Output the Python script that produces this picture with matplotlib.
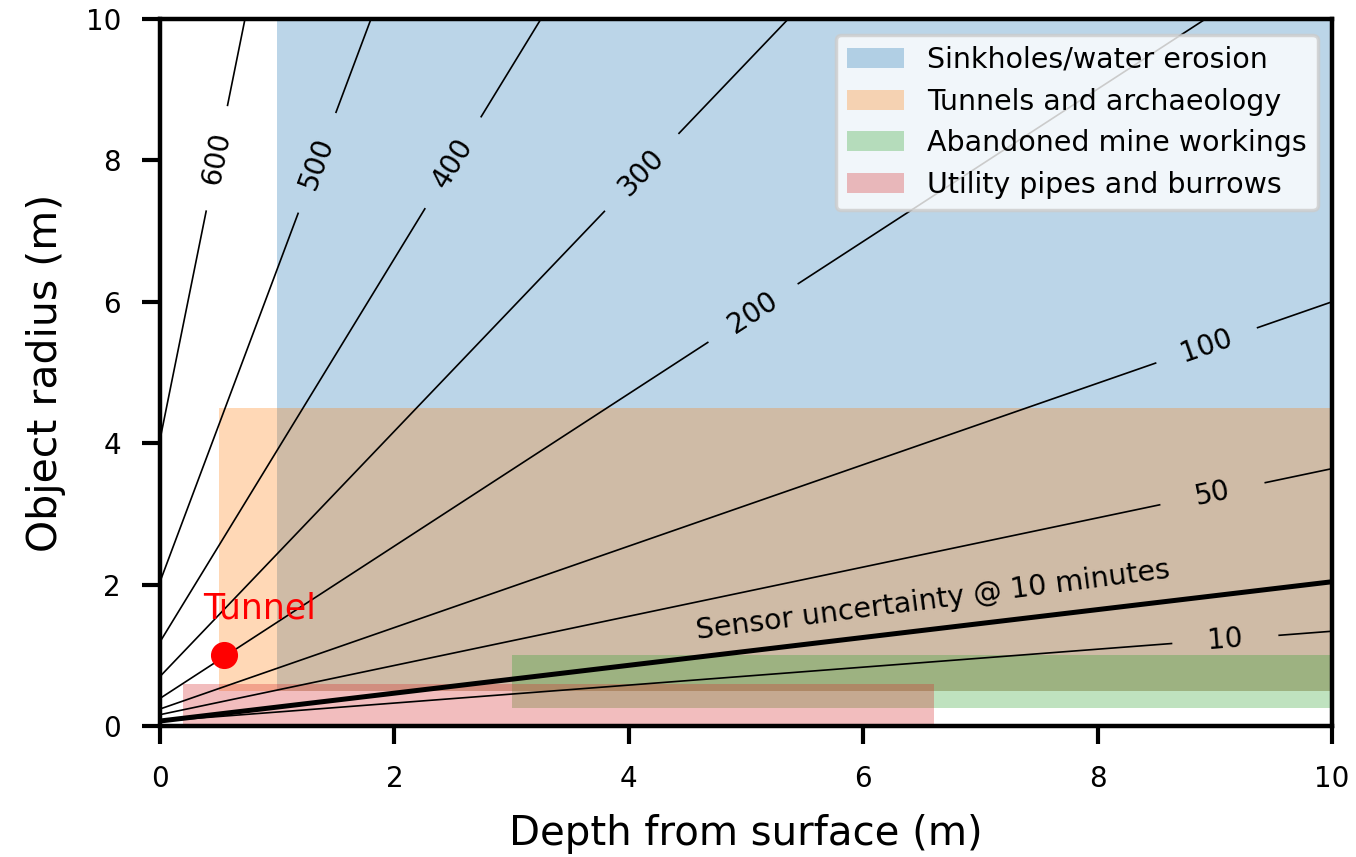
import matplotlib
matplotlib.use("Agg")
import matplotlib.pyplot as plt
from matplotlib.patches import Patch
import numpy as np

# contour lines: anomaly level, end points (depth, radius), depth of the inline label
levels = [600, 500, 400, 300, 200, 100, 50, 10]
line_x0 = [0.0, 0.0, 0.0, 0.0, 0.0, 0.0, 0.0, 0.0]
line_y0 = [4.05, 2.04, 1.19, 0.70, 0.39, 0.24, 0.16, 0.07]
line_x1 = [0.725, 1.80, 3.25, 5.36, 8.92, 10.0, 10.0, 10.0]
line_y1 = [10.0, 10.0, 10.0, 10.0, 10.0, 6.00, 3.64, 1.34]
label_x = [0.485, 1.34, 2.50, 4.11, 5.06, 8.93, 8.98, 9.09]

# sensor uncertainty line (10 minute integration)
sensor_x = [0.0, 10.0]
sensor_y = [0.07, 2.04]

# target regions: (label, colour, x0, x1, y0, y1)
region_names = ["Sinkholes/water erosion", "Tunnels and archaeology",
                "Abandoned mine workings", "Utility pipes and burrows"]
region_colors = ["tab:blue", "tab:orange", "tab:green", "tab:red"]
region_x = [(1.0, 10.0), (0.5, 10.0), (3.0, 10.0), (0.2, 6.6)]
region_y = [(0.5, 10.0), (0.5, 4.5), (0.25, 1.0), (0.0, 0.6)]

tunnel_depth = 0.55
tunnel_radius = 1.0

fig = plt.figure(figsize=(13.56, 8.57), dpi=100)
ax = fig.add_axes([0.118, 0.1529, 0.8643, 0.8249])
ax.set_xlim(0, 10)
ax.set_ylim(0, 10)

for (x0, x1), (y0, y1), c in zip(region_x, region_y, region_colors):
    ax.axvspan(x0, x1, ymin=y0 / 10, ymax=y1 / 10, color=c, alpha=0.3, lw=0, zorder=1)

fig.canvas.draw()
trans = ax.transData
gap = 54  # half width of label gap in pixels

for lev, x0, y0, x1, y1, lx in zip(levels, line_x0, line_y0, line_x1, line_y1, label_x):
    p0 = trans.transform((x0, y0))
    p1 = trans.transform((x1, y1))
    d = (p1 - p0) / np.hypot(*(p1 - p0))
    t = (lx - x0) / (x1 - x0)
    pc = p0 + t * (p1 - p0)
    a = trans.inverted().transform(pc - gap * d)
    b = trans.inverted().transform(pc + gap * d)
    ax.plot([x0, a[0]], [y0, a[1]], color="black", lw=1.2, zorder=3)
    ax.plot([b[0], x1], [b[1], y1], color="black", lw=1.2, zorder=3)
    cxy = trans.inverted().transform(pc)
    ang = np.degrees(np.arctan2(d[1], d[0]))
    ax.text(cxy[0], cxy[1], str(lev), rotation=ang, ha="center", va="center",
            rotation_mode="anchor", fontsize=20, zorder=4)

ax.plot(sensor_x, sensor_y, color="black", lw=3.6, zorder=3)
ps0 = trans.transform((sensor_x[0], sensor_y[0]))
ps1 = trans.transform((sensor_x[1], sensor_y[1]))
sang = np.degrees(np.arctan2(ps1[1] - ps0[1], ps1[0] - ps0[0]))
ax.text(6.6, 1.77, "Sensor uncertainty @ 10 minutes", rotation=sang + 0.6,
        ha="center", va="center", rotation_mode="anchor", fontsize=20.5, zorder=4)

ax.plot(tunnel_depth, tunnel_radius, "o", color="red", ms=18.5, zorder=5)
ax.text(0.85, 1.66, "Tunnel", color="red", fontsize=25, ha="center", va="center", zorder=5)

handles = [Patch(facecolor=c, alpha=0.3, lw=0) for c in region_colors]
leg = ax.legend(handles, region_names, loc="upper right", fontsize=20.5,
                bbox_to_anchor=(0.988, 0.978), borderaxespad=0.0, fancybox=True,
                labelspacing=0.48)
leg.get_frame().set_linewidth(2.5)
leg.get_frame().set_edgecolor("0.8")
leg.set_zorder(6)

ax.set_xlabel("Depth from surface (m)", fontsize=29, labelpad=15)
ax.set_ylabel("Object radius (m)", fontsize=29.5, labelpad=14)
ax.set_xticks([0, 2, 4, 6, 8, 10])
ax.set_yticks([0, 2, 4, 6, 8, 10])
ax.tick_params(labelsize=20, length=13, width=3, pad=15)
for s in ax.spines.values():
    s.set_linewidth(3.2)

fig.savefig("out.png", dpi=100)
